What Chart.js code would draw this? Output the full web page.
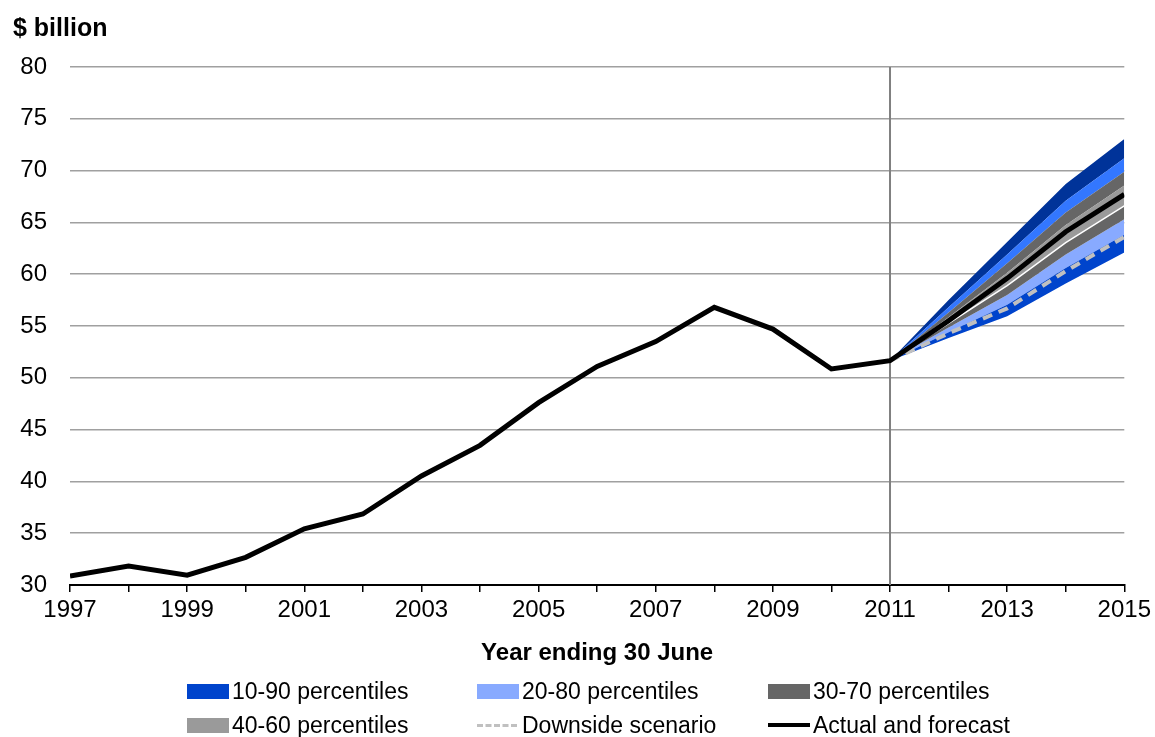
<!DOCTYPE html>
<html>
<head>
<meta charset="utf-8">
<script src="https://cdn.jsdelivr.net/npm/chart.js@4.4.1/dist/chart.umd.min.js"></script>
<style>
  html, body { margin: 0; padding: 0; background: #fff; }
  #wrap { position: relative; width: 1155px; height: 737px; overflow: hidden;
          font-family: "Liberation Sans", Arial, sans-serif; color: #000; }
  canvas { position: absolute; left: 0; top: 0; }
  #unit { position: absolute; left: 13px; top: 15px; font-weight: bold; font-size: 25px; line-height: 24px; }
  .lg-text { position: absolute; font-size: 23px; line-height: 24px; white-space: nowrap; }
  .lg-mark { position: absolute; }
</style>
</head>
<body>
<div id="wrap">
  <canvas id="chart" width="1155" height="737"></canvas>
  <div id="unit">$ billion</div>
  <div id="legend"></div>
</div>
<script>
// Years (ending 30 June) and the actual + central forecast series
const years = [1997, 1998, 1999, 2000, 2001, 2002, 2003, 2004, 2005, 2006,
               2007, 2008, 2009, 2010, 2011, 2012, 2013, 2014, 2015];
const actualForecast = [30.87, 31.83, 30.95, 32.67, 35.42, 36.85, 40.52, 43.48, 47.6, 51.1,
                        53.5, 56.8, 54.7, 50.85, 51.65, 55.5, 59.6, 64.1, 67.7];

// Forecast horizon and percentile bounds of the fan
const fanYears = [2011, 2012, 2013, 2014, 2015];
const p10 = [51.65, 53.85, 55.95, 59.1, 62.1];
const p20 = [51.65, 54.4, 57.05, 60.6, 63.8];
const p30 = [51.65, 54.85, 58.0, 61.9, 65.3];
const p40 = [51.65, 55.25, 58.9, 63.05, 66.6];
const p60 = [51.65, 55.85, 60.15, 64.75, 68.55];
const p70 = [51.65, 56.3, 61.05, 65.95, 69.9];
const p80 = [51.65, 56.8, 61.9, 67.1, 71.2];
const p90 = [51.65, 57.5, 63.1, 68.7, 73.05];
const downside = [51.65, 54.3, 56.7, 60.3, 63.6];

// Axis settings
const yTicks = [30, 35, 40, 45, 50, 55, 60, 65, 70, 75, 80];
const xLabelYears = [1997, 1999, 2001, 2003, 2005, 2007, 2009, 2011, 2013, 2015];
const forecastStart = 2011;

// Legend entries
const legendLabels = ["10-90 percentiles", "20-80 percentiles", "30-70 percentiles",
                      "40-60 percentiles", "Downside scenario", "Actual and forecast"];

const COL = {
  blueLow: '#0044CC', blueLight: '#88AAFF', greyDark: '#666666', greyLight: '#9A9A9A',
  blueBright: '#3377FF', navy: '#003399', downside: '#C0C0C0', line: '#000000', divider: '#808080'
};

const pts = (xs, ys) => xs.map((x, i) => ({ x: x, y: ys[i] }));
const band = (vals, target, color, order) => ({
  data: pts(fanYears, vals), fill: target, backgroundColor: color,
  borderColor: 'transparent', borderWidth: 0, pointRadius: 0, order: order
});

const datasets = [
  { data: pts(fanYears, p10), fill: false, borderColor: 'transparent', borderWidth: 0, pointRadius: 0, order: 5 }, // 0
  band(p20, 0, COL.blueLow, 5),      // 1
  band(p30, 1, COL.blueLight, 5),    // 2
  { data: pts(fanYears, p40), fill: 2, backgroundColor: COL.greyDark,
    borderColor: '#FFFFFF', borderWidth: 1.5, pointRadius: 0, order: 4 }, // 3
  band(p60, 3, COL.greyLight, 5),    // 4
  band(p70, 4, COL.greyDark, 5),     // 5
  band(p80, 5, COL.blueBright, 5),   // 6
  band(p90, 6, COL.navy, 5),         // 7
  { data: pts(fanYears, downside), fill: false, borderColor: COL.downside, borderWidth: 4,
    borderDash: [10, 7], pointRadius: 0, order: 2 },                        // 8
  { data: pts(years, actualForecast), fill: false, borderColor: COL.line, borderWidth: 5,
    pointRadius: 0, order: 1, borderJoinStyle: 'miter' },                   // 9
  { data: [{ x: forecastStart, y: yTicks[0] }, { x: forecastStart, y: yTicks[yTicks.length - 1] }],
    fill: false, borderColor: COL.divider, borderWidth: 2, pointRadius: 0, order: 9 } // 10
];

const tickFont = { family: '"Liberation Sans", Arial, sans-serif', size: 24 };

new Chart(document.getElementById('chart'), {
  type: 'line',
  data: { datasets: datasets },
  options: {
    responsive: false,
    animation: false,
    devicePixelRatio: 1,
    layout: { padding: { left: 0, right: 28, top: 67, bottom: 68 } },
    elements: { line: { tension: 0 } },
    plugins: { legend: { display: false }, tooltip: { enabled: false } },
    scales: {
      x: {
        type: 'linear', min: years[0], max: years[years.length - 1],
        afterFit: s => { s.height = 84; },
        afterBuildTicks: s => { s.ticks = years.map(v => ({ value: v })); },
        ticks: {
          autoSkip: false, maxRotation: 0, padding: 4, color: '#000', font: tickFont,
          callback: v => xLabelYears.includes(v) ? String(v) : ''
        },
        grid: { display: true, drawOnChartArea: false, drawTicks: true, tickLength: 7,
                tickColor: '#000', lineWidth: 1.5 },
        border: { display: true, color: '#000', width: 2 },
        title: { display: true, text: 'Year ending 30 June', color: '#000',
                 font: { family: '"Liberation Sans", Arial, sans-serif', size: 24, weight: 'bold' },
                 padding: { top: 0, bottom: 1 } }
      },
      y: {
        min: yTicks[0], max: yTicks[yTicks.length - 1],
        afterFit: s => { s.width = 70; },
        afterBuildTicks: s => { s.ticks = yTicks.map(v => ({ value: v })); },
        ticks: { padding: 23, color: '#000', font: tickFont },
        grid: { color: '#A0A0A0', lineWidth: 1.5, drawTicks: false },
        border: { display: false }
      }
    }
  }
});

// Legend: two rows of three entries
const legendCols = [187, 477, 768];
const legendRows = [691, 725];
const legendMarks = [
  { kind: 'box', color: COL.blueLow }, { kind: 'box', color: COL.blueLight },
  { kind: 'box', color: COL.greyDark }, { kind: 'box', color: COL.greyLight },
  { kind: 'dash', color: COL.downside }, { kind: 'line', color: COL.line }
];
const legend = document.getElementById('legend');
legendLabels.forEach((label, i) => {
  const x = legendCols[i % 3], cy = legendRows[Math.floor(i / 3)];
  const m = legendMarks[i];
  const mark = document.createElement('div');
  mark.className = 'lg-mark';
  if (m.kind === 'box') {
    Object.assign(mark.style, { left: x + 'px', top: (cy - 7.5) + 'px', width: '42px', height: '15px', background: m.color });
  } else if (m.kind === 'dash') {
    Object.assign(mark.style, { left: x + 'px', top: (cy - 1.5) + 'px', width: '40px', height: '0px',
      borderTop: '3px dashed ' + m.color });
  } else {
    Object.assign(mark.style, { left: x + 'px', top: (cy - 2) + 'px', width: '42px', height: '4px', background: m.color });
  }
  legend.appendChild(mark);
  const t = document.createElement('div');
  t.className = 'lg-text';
  t.style.left = (x + 45) + 'px';
  t.style.top = (cy - 12) + 'px';
  t.textContent = label;
  legend.appendChild(t);
});
</script>
</body>
</html>
